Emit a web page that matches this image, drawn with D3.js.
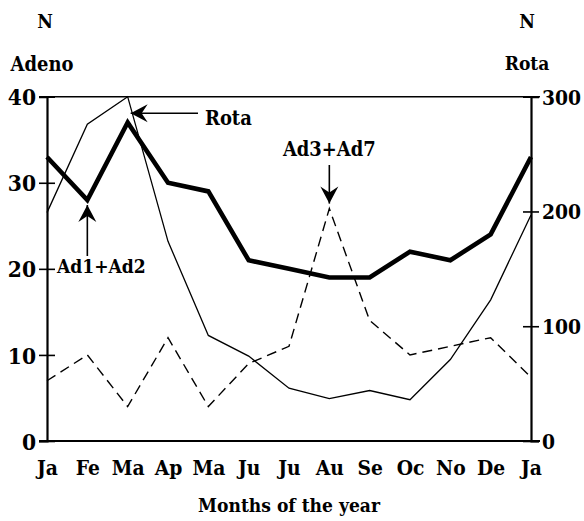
<!DOCTYPE html>
<html><head><meta charset="utf-8">
<script src="https://cdn.jsdelivr.net/npm/d3@7"></script>
<style>
html,body{margin:0;padding:0;background:#fff;}
</style></head>
<body><svg id="c" width="584" height="521"></svg>
<script>
const months = ["Ja","Fe","Ma","Ap","Ma","Ju","Ju","Au","Se","Oc","No","De","Ja"];
const adeno12 = [33,28,37,30,29,21,20,19,19,22,21,24,33];      // Ad1+Ad2, left axis
const adeno37 = [7,10,4,12,4,9,11,27,14,10,11,12,7.4];          // Ad3+Ad7, left axis
const rota = [199,276,300,174,92,74,46,37,44,36,71,123,197];    // Rota, right axis
const leftTicks = [0,10,20,30,40];
const rightTicks = [0,100,200,300];

const FONT = "'DejaVu Serif Condensed', 'DejaVu Serif', 'Liberation Serif', serif";
const svg = d3.select("#c");

const probe = svg.append("text").style("font-family",FONT).style("font-weight","bold")
  .style("font-size","22px").text("Months of the year");
const k = 182 / probe.node().getComputedTextLength();
probe.remove();
const fs = v => (v*k).toFixed(2)+"px";

const x = d3.scalePoint().domain(d3.range(months.length)).range([47,531]);
const yL = d3.scaleLinear().domain([0,40]).range([441,96.7]);
const yR = d3.scaleLinear().domain([0,300]).range([441,96.7]);

svg.append("line").attr("x1",39).attr("x2",540).attr("y1",yL(40)).attr("y2",yL(40))
  .attr("stroke","#000").attr("stroke-width",1.6);
svg.append("line").attr("x1",39).attr("x2",540).attr("y1",yL(0)).attr("y2",yL(0))
  .attr("stroke","#000").attr("stroke-width",2.2);

const gl = svg.append("g").attr("transform","translate(47,0)")
  .call(d3.axisLeft(yL).tickValues(leftTicks).tickSize(8).tickPadding(12));
gl.select(".domain").attr("stroke-width",2.2);
gl.selectAll(".tick line").attr("x1",-8).attr("x2",8).attr("stroke-width",1.6);
gl.selectAll(".tick text").style("font-size",fs(26)).attr("x",-11).attr("dy","0.36em");

const gr = svg.append("g").attr("transform","translate(531,0)")
  .call(d3.axisRight(yR).tickValues(rightTicks).tickSize(8).tickPadding(12));
gr.select(".domain").attr("stroke-width",2.2);
gr.selectAll(".tick line").attr("x1",-8).attr("x2",8).attr("stroke-width",1.6);
gr.selectAll(".tick text").style("font-size",fs(24)).attr("x",11).attr("dy","0.36em");
svg.selectAll(".domain").attr("stroke","#000");

const gb = svg.append("g").attr("transform","translate(0,441)")
  .call(d3.axisBottom(x).tickSize(0).tickPadding(19).tickFormat(i=>months[i]));
gb.select(".domain").remove();
gb.selectAll(".tick text").style("font-size",fs(24));

const lineL = d3.line().x((d,i)=>x(i)).y(d=>yL(d));
const lineR = d3.line().x((d,i)=>x(i)).y(d=>yR(d));
svg.append("path").datum(rota).attr("d",lineR).attr("fill","none")
  .attr("stroke","#000").attr("stroke-width",1.3);
svg.append("path").datum(adeno37).attr("d",lineL).attr("fill","none")
  .attr("stroke","#000").attr("stroke-width",1.4).attr("stroke-dasharray","10,6");
svg.append("path").datum(adeno12).attr("d",lineL).attr("fill","none")
  .attr("stroke","#000").attr("stroke-width",4.6).attr("stroke-linejoin","miter");

function arrow(x1,y1,x2,y2){
  svg.append("line").attr("x1",x1).attr("y1",y1).attr("x2",x2).attr("y2",y2)
    .attr("stroke","#000").attr("stroke-width",1.6);
  const a = Math.atan2(y2-y1,x2-x1);
  const L=17, W=9, N=11;
  const bx = x2 - L*Math.cos(a), by = y2 - L*Math.sin(a);
  const nx = x2 - N*Math.cos(a), ny = y2 - N*Math.sin(a);
  const px = -Math.sin(a), py = Math.cos(a);
  const p = [[x2,y2],[bx+W*px,by+W*py],[nx,ny],[bx-W*px,by-W*py]];
  svg.append("path").attr("d","M"+p.map(q=>q.join(",")).join("L")+"Z").attr("fill","#000");
}
arrow(198, 113.3, x(2)+3, 113.3);
svg.append("text").attr("x",205).attr("y",125).style("font-size",fs(23)).text("Rota");
arrow(x(1), 256, x(1), yL(adeno12[1])+5);
svg.append("text").attr("x",57).attr("y",273).style("font-size",fs(22)).text("Ad1+Ad2");
arrow(x(7), 165, x(7), yL(adeno37[7])-5);
svg.append("text").attr("x",x(7)).attr("y",156).attr("text-anchor","middle").style("font-size",fs(23)).text("Ad3+Ad7");

svg.append("text").attr("x",45).attr("y",28).attr("text-anchor","middle").style("font-size",fs(22)).text("N");
svg.append("text").attr("x",42).attr("y",71).attr("text-anchor","middle").style("font-size",fs(23)).text("Adeno");
svg.append("text").attr("x",527).attr("y",28).attr("text-anchor","middle").style("font-size",fs(22)).text("N");
svg.append("text").attr("x",527).attr("y",70).attr("text-anchor","middle").style("font-size",fs(22)).text("Rota");
svg.append("text").attr("x",289).attr("y",512).attr("text-anchor","middle").style("font-size",fs(22)).text("Months of the year");

svg.selectAll("text").style("font-family",FONT).style("font-weight","bold").attr("fill","#000");
</script></body></html>
